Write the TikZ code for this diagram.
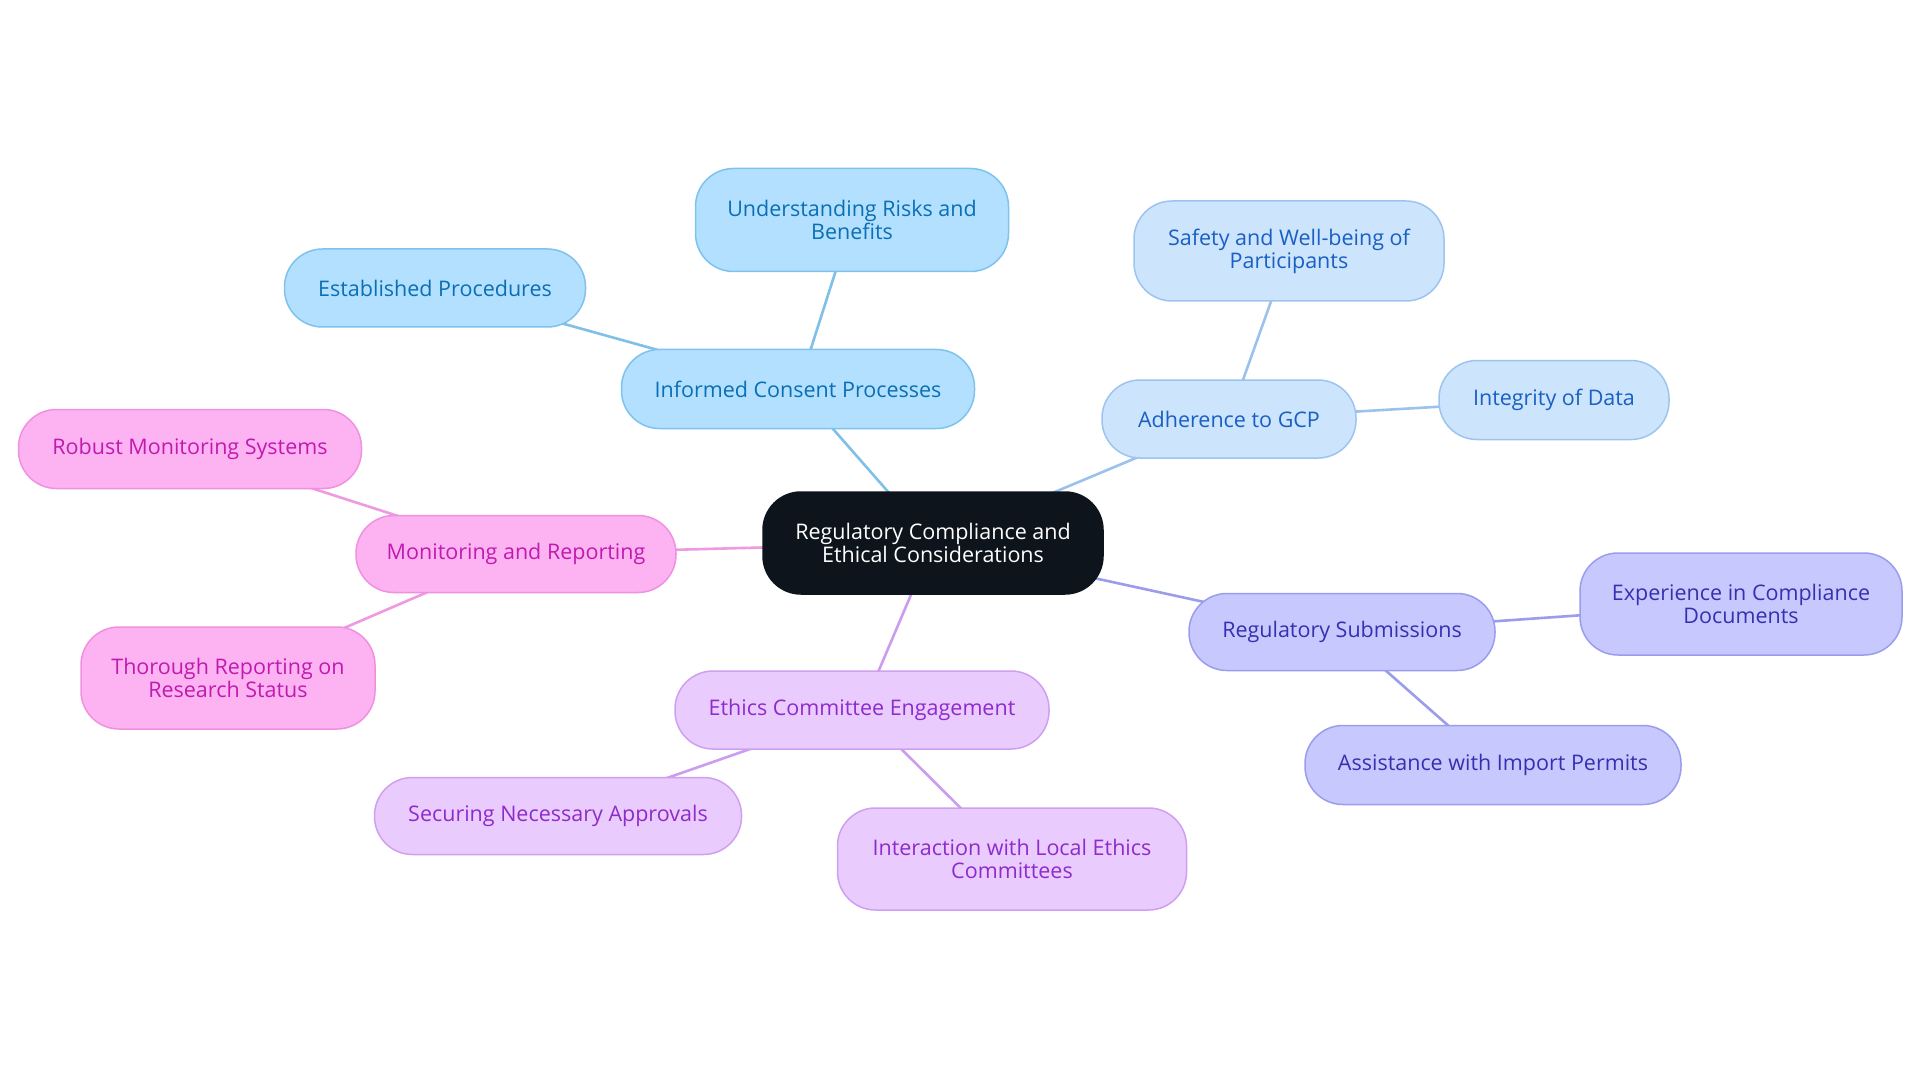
\documentclass[tikz,border=0pt]{standalone}
\usepackage{fontspec}
\setmainfont{Open Sans}
\definecolor{cdark}{HTML}{0D141C}
\definecolor{bAfill}{HTML}{B3E0FE}
\definecolor{bAdraw}{HTML}{7EC2EE}
\definecolor{bAtext}{HTML}{0A6FB5}
\definecolor{bAline}{HTML}{7FBFE8}
\definecolor{bBfill}{HTML}{CCE4FC}
\definecolor{bBdraw}{HTML}{9DC4F0}
\definecolor{bBtext}{HTML}{1A5FC4}
\definecolor{bBline}{HTML}{9CC2EC}
\definecolor{bCfill}{HTML}{C7C9FE}
\definecolor{bCdraw}{HTML}{9A9CEE}
\definecolor{bCtext}{HTML}{3530B0}
\definecolor{bCline}{HTML}{9B9DEB}
\definecolor{bDfill}{HTML}{FDB3F2}
\definecolor{bDdraw}{HTML}{F090E0}
\definecolor{bDtext}{HTML}{C01AB0}
\definecolor{bDline}{HTML}{EE9AE0}
\definecolor{bEfill}{HTML}{EACBFE}
\definecolor{bEdraw}{HTML}{CFA0F0}
\definecolor{bEtext}{HTML}{8E2BCC}
\definecolor{bEline}{HTML}{CC9CEE}
\pgfdeclarelayer{bottom}
\pgfdeclarelayer{back}
\pgfsetlayers{bottom,back,main}
\begin{document}
\begin{tikzpicture}[x=1pt,y=-1pt,
  box/.style={rounded corners=38pt, line width=1.5pt, align=center, inner sep=0pt,
    font=\fontsize{21.5}{23}\selectfont},
  rootbox/.style={box, fill=cdark, draw=cdark, text=white},
  bA/.style={box, fill=bAfill, draw=bAdraw, text=bAtext},
  bB/.style={box, fill=bBfill, draw=bBdraw, text=bBtext},
  bC/.style={box, fill=bCfill, draw=bCdraw, text=bCtext},
  bD/.style={box, fill=bDfill, draw=bDdraw, text=bDtext},
  bE/.style={box, fill=bEfill, draw=bEdraw, text=bEtext},
  lnk/.style={line width=2.6pt}
]
\useasboundingbox (0,0) rectangle (1920,1083);
\begin{pgfonlayer}{bottom}
\fill[white] (0,0) rectangle (1920,1083);
\end{pgfonlayer}

\node[rootbox, minimum width=340pt, minimum height=102pt] (root) at (933,543) {Regulatory Compliance and\\Ethical Considerations};

\node[bA, minimum width=353pt, minimum height=79pt] (icp) at (798,389) {Informed Consent Processes};
\node[bA, minimum width=313pt, minimum height=103pt] (urb) at (852,220) {Understanding Risks and\\Benefits};
\node[bA, minimum width=301pt, minimum height=78pt] (ep) at (435,288) {Established Procedures};

\node[bB, minimum width=254pt, minimum height=78pt] (gcp) at (1229,419) {Adherence to GCP};
\node[bB, minimum width=310pt, minimum height=100pt] (swb) at (1289,251) {Safety and Well-being of\\Participants};
\node[bB, minimum width=230pt, minimum height=79pt] (iod) at (1554,400) {Integrity of Data};

\node[bC, minimum width=306pt, minimum height=77pt] (rs) at (1342,632) {Regulatory Submissions};
\node[bC, minimum width=322pt, minimum height=102pt] (eic) at (1741,604) {Experience in Compliance\\Documents};
\node[bC, minimum width=376pt, minimum height=79pt] (aip) at (1493,765) {Assistance with Import Permits};

\node[bD, minimum width=320pt, minimum height=77pt] (mr) at (516,554) {Monitoring and Reporting};
\node[bD, minimum width=343pt, minimum height=79pt] (rms) at (190,449) {Robust Monitoring Systems};
\node[bD, minimum width=294pt, minimum height=102pt] (trr) at (228,678) {Thorough Reporting on\\Research Status};

\node[bE, minimum width=374pt, minimum height=78pt] (ece) at (862,710) {Ethics Committee Engagement};
\node[bE, minimum width=367pt, minimum height=77pt] (sna) at (558,816) {Securing Necessary Approvals};
\node[bE, minimum width=349pt, minimum height=102pt] (ilc) at (1012,859) {Interaction with Local Ethics\\Committees};

\begin{pgfonlayer}{back}
\draw[lnk, bAline] (root.center) -- (icp.center);
\draw[lnk, bAline] (icp.center) -- (urb.center);
\draw[lnk, bAline] (icp.center) -- (ep.center);
\draw[lnk, bBline] (root.center) -- (gcp.center);
\draw[lnk, bBline] (gcp.center) -- (swb.center);
\draw[lnk, bBline] (gcp.center) -- (iod.center);
\draw[lnk, bCline] (root.center) -- (rs.center);
\draw[lnk, bCline] (rs.center) -- (eic.center);
\draw[lnk, bCline] (rs.center) -- (aip.center);
\draw[lnk, bDline] (root.center) -- (mr.center);
\draw[lnk, bDline] (mr.center) -- (rms.center);
\draw[lnk, bDline] (mr.center) -- (trr.center);
\draw[lnk, bEline] (root.center) -- (ece.center);
\draw[lnk, bEline] (ece.center) -- (sna.center);
\draw[lnk, bEline] (ece.center) -- (ilc.center);
\end{pgfonlayer}
\end{tikzpicture}
\end{document}
